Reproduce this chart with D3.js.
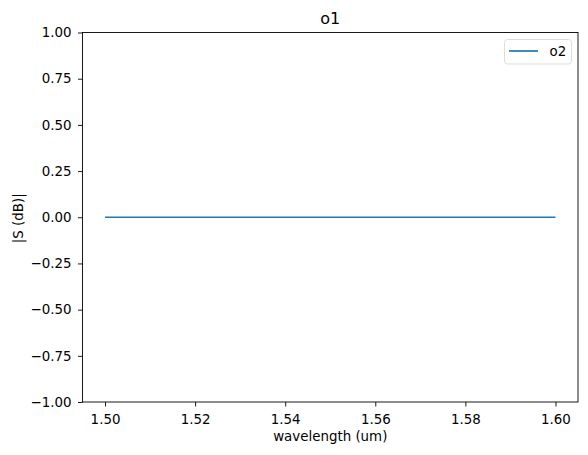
<!DOCTYPE html>
<html>
<head>
<meta charset="utf-8">
<script src="https://cdn.jsdelivr.net/npm/d3@7"></script>
<style>
  body { margin: 0; background: #fff; }
  text { font-family: "DejaVu Sans", sans-serif; fill: #000; }
</style>
</head>
<body>
<div id="chart"></div>
<script>
const wavelength = [1.50, 1.51, 1.52, 1.53, 1.54, 1.55, 1.56, 1.57, 1.58, 1.59, 1.60];
const sdb = [0, 0, 0, 0, 0, 0, 0, 0, 0, 0, 0];
const xTicks = [1.50, 1.52, 1.54, 1.56, 1.58, 1.60];
const yTicks = [-1.00, -0.75, -0.50, -0.25, 0.00, 0.25, 0.50, 0.75, 1.00];
const seriesName = "o2";
const titleText = "o1";

const width = 588, height = 455;
const margin = {left: 82.5, right: 10, top: 32.5, bottom: 53};
const fs = 13.4;

const svg = d3.select("#chart").append("svg")
    .attr("width", width)
    .attr("height", height);

const xScale = d3.scaleLinear()
    .domain([1.495, 1.605])
    .range([margin.left, width - margin.right]);

const yScale = d3.scaleLinear()
    .domain([-1, 1])
    .range([height - margin.bottom, margin.top]);

const fmtMinus = s => s.replace("-", "\u2212");

const xAxis = svg.append("g")
    .attr("transform", `translate(0,${height - margin.bottom})`)
    .call(d3.axisBottom(xScale).tickValues(xTicks).tickFormat(d3.format(".2f")).tickSize(4.5).tickPadding(7.5));

const yAxis = svg.append("g")
    .attr("transform", `translate(${margin.left},0)`)
    .call(d3.axisLeft(yScale).tickValues(yTicks).tickFormat(d => fmtMinus(d3.format(".2f")(d))).tickSize(4.5).tickPadding(6.5));

[xAxis, yAxis].forEach(a => {
    a.select(".domain").remove();
    a.selectAll("line").attr("stroke", "#000").attr("stroke-width", 0.9);
    a.selectAll("text").style("font-size", fs + "px").attr("font-family", "DejaVu Sans");
});

// frame
svg.append("rect")
    .attr("x", margin.left)
    .attr("y", margin.top)
    .attr("width", width - margin.right - margin.left)
    .attr("height", height - margin.bottom - margin.top)
    .attr("fill", "none")
    .attr("stroke", "#000")
    .attr("stroke-width", 0.9);

const line = d3.line()
    .x((d, i) => xScale(wavelength[i]))
    .y(d => yScale(d));

svg.append("path")
    .datum(sdb)
    .attr("d", line)
    .attr("fill", "none")
    .attr("stroke", "#1f77b4")
    .attr("stroke-width", 1.7);

// title & labels
svg.append("text")
    .attr("x", (margin.left + width - margin.right) / 2)
    .attr("y", 24)
    .attr("text-anchor", "middle")
    .style("font-size", "16px")
    .text(titleText);

svg.append("text")
    .attr("x", (margin.left + width - margin.right) / 2)
    .attr("y", 441)
    .attr("text-anchor", "middle")
    .style("font-size", fs + "px")
    .text("wavelength (um)");

svg.append("text")
    .attr("transform", `translate(22.5,${(margin.top + height - margin.bottom) / 2 + 1}) rotate(-90)`)
    .attr("text-anchor", "middle")
    .style("font-size", fs + "px")
    .text("|S (dB)|");

// legend
const legend = svg.append("g");
legend.append("rect")
    .attr("x", 504.5).attr("y", 39.5)
    .attr("width", 67).attr("height", 24.5)
    .attr("rx", 3)
    .attr("fill", "#fff")
    .attr("stroke", "#d9d9d9")
    .attr("stroke-width", 0.9);
legend.append("line")
    .attr("x1", 509).attr("x2", 538)
    .attr("y1", 51).attr("y2", 51)
    .attr("stroke", "#1f77b4")
    .attr("stroke-width", 1.7);
legend.append("text")
    .attr("x", 549.5).attr("y", 56)
    .style("font-size", fs + "px")
    .text(seriesName);
</script>
</body>
</html>
